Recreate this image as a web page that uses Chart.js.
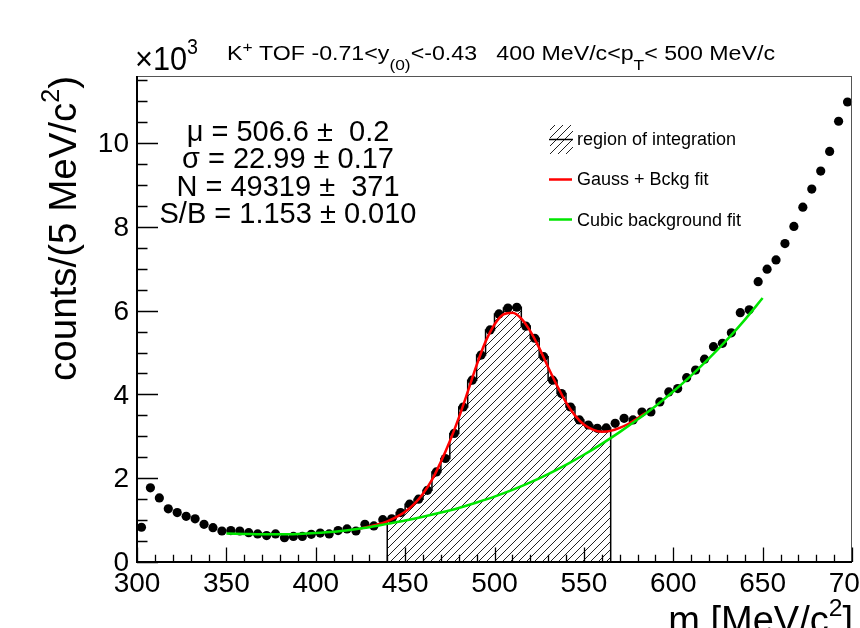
<!DOCTYPE html>
<html>
<head>
<meta charset="utf-8">
<script src="https://cdn.jsdelivr.net/npm/chart.js@4.4.1/dist/chart.umd.min.js"></script>
<style>
    html, body { margin: 0; padding: 0; background: #fff; }
    #wrap { width: 860px; height: 628px; }
</style>
</head>
<body>
<div id="wrap"><canvas id="chart" width="860" height="628"></canvas></div>
<script>
"use strict";

    // 5 MeV/c^2 bins, counts in units of 10^3
    const binCenters = [
        302.5, 307.5, 312.5, 317.5, 322.5, 327.5, 332.5, 337.5, 342.5, 347.5,
        352.5, 357.5, 362.5, 367.5, 372.5, 377.5, 382.5, 387.5, 392.5, 397.5,
        402.5, 407.5, 412.5, 417.5, 422.5, 427.5, 432.5, 437.5, 442.5, 447.5,
        452.5, 457.5, 462.5, 467.5, 472.5, 477.5, 482.5, 487.5, 492.5, 497.5,
        502.5, 507.5, 512.5, 517.5, 522.5, 527.5, 532.5, 537.5, 542.5, 547.5,
        552.5, 557.5, 562.5, 567.5, 572.5, 577.5, 582.5, 587.5, 592.5, 597.5,
        602.5, 607.5, 612.5, 617.5, 622.5, 627.5, 632.5, 637.5, 642.5, 647.5,
        652.5, 657.5, 662.5, 667.5, 672.5, 677.5, 682.5, 687.5, 692.5, 697.5
    ];
    const counts = [
        0.83, 1.77, 1.53, 1.27, 1.18, 1.09, 1.03, 0.90, 0.82, 0.74,
        0.75, 0.74, 0.70, 0.67, 0.63, 0.67, 0.58, 0.61, 0.61, 0.66,
        0.69, 0.67, 0.75, 0.79, 0.74, 0.90, 0.86, 1.01, 1.03, 1.18,
        1.38, 1.50, 1.71, 2.15, 2.47, 3.07, 3.70, 4.34, 4.94, 5.54,
        5.92, 6.06, 6.08, 5.63, 5.34, 4.90, 4.34, 4.02, 3.70, 3.39,
        3.27, 3.19, 3.20, 3.31, 3.43, 3.39, 3.58, 3.58, 3.82, 4.06,
        4.14, 4.40, 4.58, 4.84, 5.14, 5.22, 5.47, 5.95, 6.02, 6.69,
        6.99, 7.21, 7.60, 8.01, 8.47, 8.90, 9.33, 9.80, 10.52, 10.98
    ];
    const binWidth = 5;
    const regionLow = 440;
    const regionHigh = 565;

    // Gauss + Bckg fit
    const gaussX = [425, 430, 435, 440, 445, 450, 455, 460, 465, 470, 475, 480, 485, 490, 495, 500, 505,
        510, 515, 520, 525, 530, 535, 540, 545, 550, 555, 560, 565, 570, 575, 580, 585];
    const gaussY = [0.80, 0.85, 0.90, 0.97, 1.07, 1.20, 1.38, 1.63, 1.96, 2.39, 2.88, 3.44, 4.06, 4.70, 5.26, 5.67, 5.91,
        5.95, 5.81, 5.51, 5.11, 4.65, 4.21, 3.81, 3.50, 3.28, 3.16, 3.11, 3.13, 3.20, 3.30, 3.43, 3.57];

    // Cubic background fit
    const cubicX = [350, 360, 370, 380, 390, 400, 410, 420, 430, 440, 450, 460, 470, 480, 490, 500,
        510, 520, 530, 540, 550, 560, 570, 580, 590, 600, 610, 620, 630, 640, 650];
    const cubicY = [0.68, 0.67, 0.66, 0.66, 0.67, 0.69, 0.72, 0.77, 0.83, 0.91, 0.99, 1.08, 1.18, 1.29, 1.42, 1.56,
        1.72, 1.90, 2.10, 2.32, 2.56, 2.82, 3.10, 3.40, 3.72, 4.07, 4.45, 4.86, 5.30, 5.78, 6.30];

    const xTickValues = [300, 350, 400, 450, 500, 550, 600, 650, 700];
    const yTickValues = [0, 2, 4, 6, 8, 10];
    const xMinorStep = 10;
    const yMinorStep = 0.5;

    const statLines = [
        'μ = 506.6 ±  0.2',
        'σ = 22.99 ± 0.17',
        'N = 49319 ±  371',
        'S/B = 1.153 ± 0.010'
    ];
    const legendLabels = ['region of integration', 'Gauss + Bckg fit', 'Cubic background fit'];
    const titleParts = [
        ['K', ''], ['+', 'sup'], [' TOF -0.71<y', ''], ['(0)', 'sub'],
        ['<-0.43   400 MeV/c<p', ''], ['T', 'sub'], ['< 500 MeV/c', '']
    ];
    const xTitleParts = [['m [MeV/c', ''], ['2', 'sup'], [']', '']];
    const yTitleParts = [['counts/(5 MeV/c', ''], ['2', 'sup'], [')', '']];
    const expParts = [['×10', ''], ['3', 'sup']];

    const FONT = '"Liberation Sans", Arial, Helvetica, sans-serif';

    const canvas = document.getElementById('chart');
    const ctx = canvas.getContext('2d');

    // hatch pattern like ROOT fill style 3004
    function makeHatch() {
        const c = document.createElement('canvas');
        c.width = 8;
        c.height = 8;
        const g = c.getContext('2d');
        g.strokeStyle = '#222';
        g.lineWidth = 1;
        g.beginPath();
        g.moveTo(-1, 9); g.lineTo(9, -1);
        g.moveTo(-1, 1); g.lineTo(1, -1);
        g.moveTo(7, 9); g.lineTo(9, 7);
        g.stroke();
        return ctx.createPattern(c, 'repeat');
    }
    const hatch = makeHatch();

    // step outline of the integrated region
    const stepData = [{x: regionLow, y: 0}];
    let lastVal = 0;
    binCenters.forEach((c, i) => {
        if (c > regionLow && c < regionHigh) {
            stepData.push({x: c - binWidth / 2, y: counts[i]});
            lastVal = counts[i];
        }
    });
    stepData.push({x: regionHigh, y: lastVal});
    stepData.push({x: regionHigh, y: 0});

    function drawRich(g, parts, x, y, o) {
        const size = o.size;
        const small = o.small || 0.65;
        const fontOf = k => (k ? size * small : size) + 'px ' + FONT;
        let w = 0;
        parts.forEach(([t, k]) => { g.font = fontOf(k); w += g.measureText(t).width; });
        const sx = o.width ? o.width / w : 1;
        let start = 0;
        if (o.align === 'right') start = -w * sx;
        if (o.align === 'center') start = -w * sx / 2;
        g.save();
        g.translate(x + start, y);
        g.scale(sx, 1);
        g.textAlign = 'left';
        g.textBaseline = 'alphabetic';
        let cx = 0;
        parts.forEach(([t, k]) => {
            g.font = fontOf(k);
            let dy = 0;
            if (k === 'sup') dy = -size * (o.rise || 0.45);
            if (k === 'sub') dy = size * (o.drop || 0.3);
            g.fillText(t, cx, dy);
            cx += g.measureText(t).width;
        });
        g.restore();
    }

    const frameDecor = {
        id: 'frameDecor',
        afterDatasetsDraw(chart) {
            const g = chart.ctx;
            const a = chart.chartArea;
            const xs = chart.scales.x;
            const ys = chart.scales.y;
            g.save();
            g.fillStyle = '#000';
            g.strokeStyle = '#000';

            // frame
            g.lineWidth = 1;
            g.strokeStyle = '#555';
            g.strokeRect(a.left, a.top + 0.5, a.right - a.left - 0.5, a.bottom - a.top);
            g.strokeStyle = '#000';
            g.lineWidth = 2;
            g.beginPath();
            g.moveTo(a.left, a.top);
            g.lineTo(a.left, a.bottom);
            g.lineTo(a.right, a.bottom);
            g.stroke();

            // ticks (inside the frame)
            g.lineWidth = 1.3;
            g.beginPath();
            for (let v = xs.min; v <= xs.max + 1e-6; v += xMinorStep) {
                const px = Math.round(xs.getPixelForValue(v)) + 0.5;
                const len = xTickValues.includes(Math.round(v)) ? 14.5 : 7.3;
                g.moveTo(px, a.bottom);
                g.lineTo(px, a.bottom - len);
            }
            for (let v = ys.min; v <= ys.max + 1e-6; v += yMinorStep) {
                const py = Math.round(ys.getPixelForValue(v)) + 0.5;
                const len = yTickValues.includes(v) ? 21 : 10.5;
                g.moveTo(a.left, py);
                g.lineTo(a.left + len, py);
            }
            g.stroke();

            // tick labels
            g.font = '28px ' + FONT;
            g.textAlign = 'center';
            g.textBaseline = 'alphabetic';
            xTickValues.forEach(v => g.fillText(String(v), xs.getPixelForValue(v), a.bottom + 30));
            g.textAlign = 'right';
            g.textBaseline = 'middle';
            yTickValues.forEach(v => g.fillText(String(v), a.left - 8, ys.getPixelForValue(v) + 1.5));

            // axis titles
            drawRich(g, xTitleParts, a.right + 1, 633, {size: 38, align: 'right'});
            g.save();
            g.translate(76, a.top);
            g.rotate(-Math.PI / 2);
            drawRich(g, yTitleParts, 0, 0, {size: 38.5, align: 'right'});
            g.restore();

            // x10^3 and title
            drawRich(g, expParts, 135, 70, {size: 34, width: 63, small: 0.64, rise: 0.48});
            drawRich(g, titleParts, 227, 60, {size: 20, width: 548, small: 0.75, rise: 0.42, drop: 0.5});

            // fit results
            g.font = '29px ' + FONT;
            g.textAlign = 'center';
            g.textBaseline = 'alphabetic';
            statLines.forEach((s, i) => g.fillText(s, 288, 140.5 + i * 27.5));

            // legend
            g.font = '18px ' + FONT;
            g.textAlign = 'left';
            legendLabels.forEach((s, i) => g.fillText(s, 577, 145 + i * 40.3));
            g.save();
            g.beginPath();
            g.rect(550, 125, 23, 29);
            g.clip();
            g.fillStyle = hatch;
            g.fillRect(550, 125, 23, 29);
            g.restore();
            g.lineWidth = 1.5;
            g.strokeStyle = '#000';
            g.beginPath();
            g.moveTo(549, 139.5);
            g.lineTo(573, 139.5);
            g.stroke();
            g.lineWidth = 2.5;
            g.strokeStyle = '#ff0000';
            g.beginPath();
            g.moveTo(549, 179.5);
            g.lineTo(572, 179.5);
            g.stroke();
            g.strokeStyle = '#00e600';
            g.beginPath();
            g.moveTo(549, 219.5);
            g.lineTo(572, 219.5);
            g.stroke();

            g.restore();
        }
    };

    const chart = new Chart(ctx, {
        type: 'line',
        data: {
            datasets: [
                {
                    label: 'Cubic background fit',
                    data: cubicX.map((x, i) => ({x, y: cubicY[i]})),
                    borderColor: '#00e600',
                    borderWidth: 2.5,
                    pointRadius: 0,
                    fill: false,
                    cubicInterpolationMode: 'monotone',
                    order: 1
                },
                {
                    label: 'Gauss + Bckg fit',
                    data: gaussX.map((x, i) => ({x, y: gaussY[i]})),
                    borderColor: '#ff0000',
                    borderWidth: 2.5,
                    pointRadius: 0,
                    fill: false,
                    cubicInterpolationMode: 'monotone',
                    order: 2
                },
                {
                    label: 'data',
                    data: binCenters.map((x, i) => ({x, y: counts[i]})),
                    showLine: false,
                    pointRadius: 4.6,
                    pointBackgroundColor: '#000',
                    pointBorderWidth: 0,
                    clip: false,
                    order: 3
                },
                {
                    label: 'region of integration',
                    data: stepData,
                    stepped: 'before',
                    fill: 'origin',
                    backgroundColor: hatch,
                    borderColor: '#000',
                    borderWidth: 1.5,
                    pointRadius: 0,
                    order: 4
                }
            ]
        },
        options: {
            responsive: false,
            animation: false,
            devicePixelRatio: 1,
            events: [],
            layout: {
                padding: {left: 137, top: 76, right: 8, bottom: 66}
            },
            scales: {
                x: {type: 'linear', min: 300, max: 700, display: false},
                y: {type: 'linear', min: 0, max: 11.6, display: false}
            },
            plugins: {
                legend: {display: false},
                tooltip: {enabled: false}
            }
        },
        plugins: [frameDecor]
    });
</script>
</body>
</html>
